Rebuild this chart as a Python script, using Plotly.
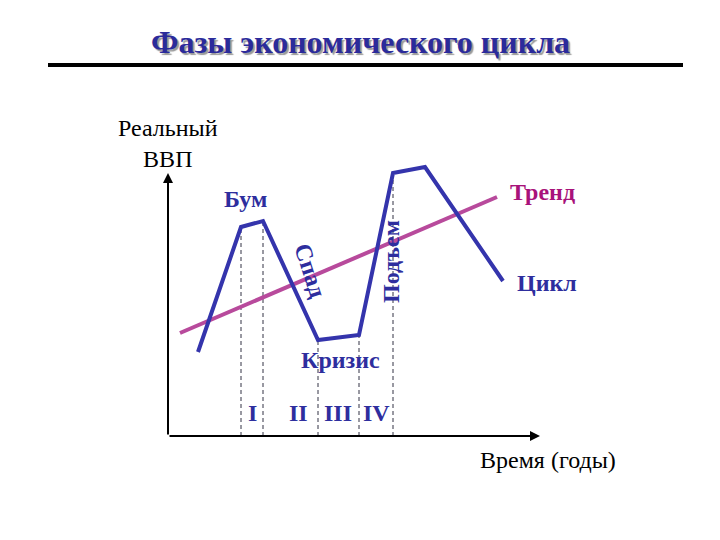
import plotly.graph_objects as go

# Data in chart units (time, real GDP)
cycle_time = [3.0, 7.3, 9.5, 15.0, 19.1, 22.5, 25.7, 33.5]
cycle_gdp = [8.4, 20.9, 21.5, 9.6, 10.1, 26.3, 26.9, 15.5]
trend_time = [1.2, 32.9]
trend_gdp = [10.3, 23.9]
phase_idx = [1, 2, 3, 4, 5]  # cycle points with dashed phase markers
roman_labels = ["I", "II", "III", "IV"]
roman_time = [8.4, 13.0, 17.0, 20.8]
roman_gdp = 2.3
x_axis_end = 37.2
y_axis_end = 26.3

CYCLE = "#3434AC"
TREND = "#B84A9C"
LBLUE = "#2E2E9E"
SERIF = "Liberation Serif"

fig = go.Figure()

# dashed phase lines
for i in phase_idx:
    fig.add_trace(go.Scatter(x=[cycle_time[i], cycle_time[i]], y=[0, cycle_gdp[i]],
                             mode="lines", line=dict(color="#333344", width=1, dash="4px,3px"),
                             hoverinfo="skip", showlegend=False))

fig.add_trace(go.Scatter(x=trend_time, y=trend_gdp, mode="lines",
                         line=dict(color=TREND, width=4), showlegend=False))
fig.add_trace(go.Scatter(x=cycle_time, y=cycle_gdp, mode="lines",
                         line=dict(color=CYCLE, width=4), showlegend=False))

ann = []
# axes arrows
ann.append(dict(x=x_axis_end, y=0, ax=0, ay=0, xref="x", yref="y", axref="x", ayref="y",
                showarrow=True, arrowhead=2, arrowsize=1, arrowwidth=2, arrowcolor="black", text=""))
ann.append(dict(x=0, y=y_axis_end, ax=0, ay=0, xref="x", yref="y", axref="x", ayref="y",
                showarrow=True, arrowhead=2, arrowsize=1, arrowwidth=2, arrowcolor="black", text=""))

def lbl(t, x, y, size=24, color=LBLUE, bold=True, angle=0, family=SERIF):
    txt = f"<b>{t}</b>" if bold else t
    ann.append(dict(x=x, y=y, xref="x", yref="y", text=txt, showarrow=False, textangle=angle,
                    font=dict(family=family, size=size, color=color), xanchor="center", yanchor="middle"))

lbl("Бум", 7.7, 23.7)
lbl("Спад", 14.2, 16.6, angle=72)
lbl("Подъем", 22.3, 17.4, angle=-90)
lbl("Кризис", 17.2, 7.6)
lbl("Тренд", 37.4, 24.4, color="#A8127A")
lbl("Цикл", 37.9, 15.3)
for t, x in zip(roman_labels, roman_time):
    lbl(t, x, roman_gdp)
lbl("Время (годы)", 38.0, -2.4, size=24, color="black", bold=False)
lbl("Реальный<br>ВВП", 0.0, 29.3, size=24, color="black", bold=False)

ann.append(dict(x=0.5, y=1 - 42 / 540, xref="paper", yref="paper", showarrow=False,
                text="<b>Фазы экономического цикла</b>",
                font=dict(family=SERIF, size=32, color="#2B2B9B", shadow="2px 2px 1px #9a9a9a"),
                xanchor="center", yanchor="middle"))

fig.update_layout(
    width=720, height=540, margin=dict(l=0, r=0, t=0, b=0),
    paper_bgcolor="white", plot_bgcolor="white",
    font=dict(family=SERIF),
    xaxis=dict(range=[-16.8, 55.2], visible=False, fixedrange=True),
    yaxis=dict(range=[-10.4, 43.6], visible=False, fixedrange=True),
    annotations=ann,
    shapes=[dict(type="line", xref="paper", yref="paper", x0=48 / 720, x1=683 / 720,
                 y0=1 - 65 / 540, y1=1 - 65 / 540, line=dict(color="black", width=4))],
    showlegend=False,
)

fig.write_html("out.html", config={"displayModeBar": False},
               post_script="document.body.style.margin='0';")
